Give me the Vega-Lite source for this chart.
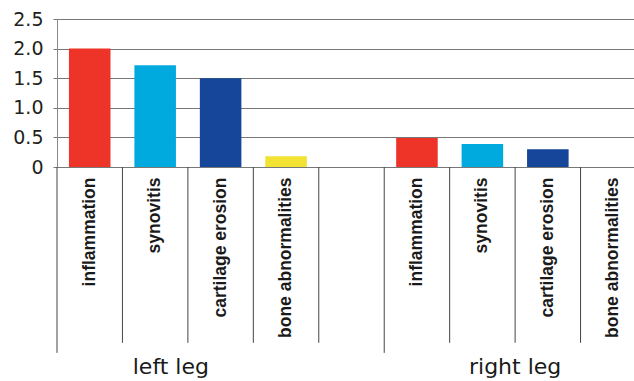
{
  "$schema": "https://vega.github.io/schema/vega-lite/v6.json",
  "autosize": "none",
  "width": 577,
  "height": 148,
  "padding": {"left": 57, "top": 19, "right": 0, "bottom": 214},
  "background": "white",
  "config": {"view": {"stroke": null}},
  "resolve": {"axis": {"x": "independent", "y": "independent"}},
  "datasets": {
    "bars": [
      {"slot": "L-inflammation", "leg": "left leg", "measure": "inflammation", "value": 2.0},
      {"slot": "L-synovitis", "leg": "left leg", "measure": "synovitis", "value": 1.72},
      {"slot": "L-cartilage erosion", "leg": "left leg", "measure": "cartilage erosion", "value": 1.5},
      {"slot": "L-bone abnormalities", "leg": "left leg", "measure": "bone abnormalities", "value": 0.18},
      {"slot": "R-inflammation", "leg": "right leg", "measure": "inflammation", "value": 0.49},
      {"slot": "R-synovitis", "leg": "right leg", "measure": "synovitis", "value": 0.39},
      {"slot": "R-cartilage erosion", "leg": "right leg", "measure": "cartilage erosion", "value": 0.3},
      {"slot": "R-bone abnormalities", "leg": "right leg", "measure": "bone abnormalities", "value": 0}
    ],
    "innerSeps": [
      {"slot": "L-synovitis"}, {"slot": "L-cartilage erosion"}, {"slot": "L-bone abnormalities"}, {"slot": "gap"},
      {"slot": "R-synovitis"}, {"slot": "R-cartilage erosion"}, {"slot": "R-bone abnormalities"}
    ],
    "outerSeps": [{"slot": "L-inflammation"}, {"slot": "R-inflammation"}],
    "groups": [
      {"label": "left leg", "anchor": "L-synovitis"},
      {"label": "right leg", "anchor": "R-synovitis"}
    ]
  },
  "layer": [
    {
      "data": {"name": "bars"},
      "mark": {"type": "bar", "width": {"band": 0.635}},
      "encoding": {
        "x": {
          "field": "slot", "type": "nominal",
          "scale": {
            "domain": ["L-inflammation", "L-synovitis", "L-cartilage erosion", "L-bone abnormalities", "gap", "R-inflammation", "R-synovitis", "R-cartilage erosion", "R-bone abnormalities"],
            "range": [0, 589],
            "paddingInner": 0, "paddingOuter": 0
          },
          "axis": {
            "title": null, "ticks": false, "domain": false, "labelAngle": -90,
            "labelAlign": "right", "labelBaseline": "middle", "labelPadding": 10,
            "labelFont": "Liberation Sans", "labelFontWeight": "bold", "labelFontSize": 17.5,
            "labelColor": "#1a1a1a", "labelLimit": 300,
            "labelExpr": "datum.value == 'gap' ? '' : substring(datum.value, 2)"
          }
        },
        "y": {
          "field": "value", "type": "quantitative",
          "scale": {"domain": [0, 2.5], "nice": false, "zero": true},
          "axis": {
            "title": null, "values": [0, 0.5, 1, 1.5, 2, 2.5], "labelOverlap": false,
            "labelExpr": "datum.value == 0 ? '0' : format(datum.value, '.1f')",
            "labelFont": "DejaVu Sans", "labelFontSize": 19, "labelColor": "#231f20",
            "labelPadding": 10, "tickSize": 4, "tickColor": "#777", "grid": true,
            "gridColor": "#777", "gridOpacity": 1, "domainColor": "#888",
            "labelFlush": false
          }
        },
        "color": {
          "field": "measure", "type": "nominal", "legend": null,
          "scale": {
            "domain": ["inflammation", "synovitis", "cartilage erosion", "bone abnormalities"],
            "range": ["#EE3428", "#00A9DE", "#164699", "#F2E234"]
          }
        }
      }
    },
    {
      "data": {"name": "innerSeps"},
      "mark": {"type": "rule", "color": "#444", "strokeWidth": 1},
      "encoding": {
        "x": {"field": "slot", "type": "nominal", "bandPosition": 0, "axis": null},
        "y": {"datum": 0, "type": "quantitative", "axis": null},
        "y2": {"datum": -2.97}
      }
    },
    {
      "data": {"name": "outerSeps"},
      "mark": {"type": "rule", "color": "#444", "strokeWidth": 1},
      "encoding": {
        "x": {"field": "slot", "type": "nominal", "bandPosition": 0, "axis": null},
        "y": {"datum": 0, "type": "quantitative", "axis": null},
        "y2": {"datum": -3.14}
      }
    },
    {
      "data": {"name": "groups"},
      "transform": [{"filter": "datum.label == 'left leg'"}],
      "mark": {"type": "text", "font": "DejaVu Sans", "fontSize": 22, "color": "#1a1a1a", "baseline": "alphabetic", "align": "center"},
      "encoding": {
        "x": {"field": "anchor", "type": "nominal", "bandPosition": 0.74, "axis": null},
        "y": {"datum": -3.5, "type": "quantitative", "axis": null},
        "text": {"field": "label"}
      }
    },
    {
      "data": {"name": "groups"},
      "transform": [{"filter": "datum.label == 'right leg'"}],
      "mark": {"type": "text", "font": "DejaVu Sans", "fontSize": 22, "color": "#1a1a1a", "baseline": "alphabetic", "align": "center"},
      "encoding": {
        "x": {"field": "anchor", "type": "nominal", "bandPosition": 1, "axis": null},
        "y": {"datum": -3.5, "type": "quantitative", "axis": null},
        "text": {"field": "label"}
      }
    }
  ]
}
